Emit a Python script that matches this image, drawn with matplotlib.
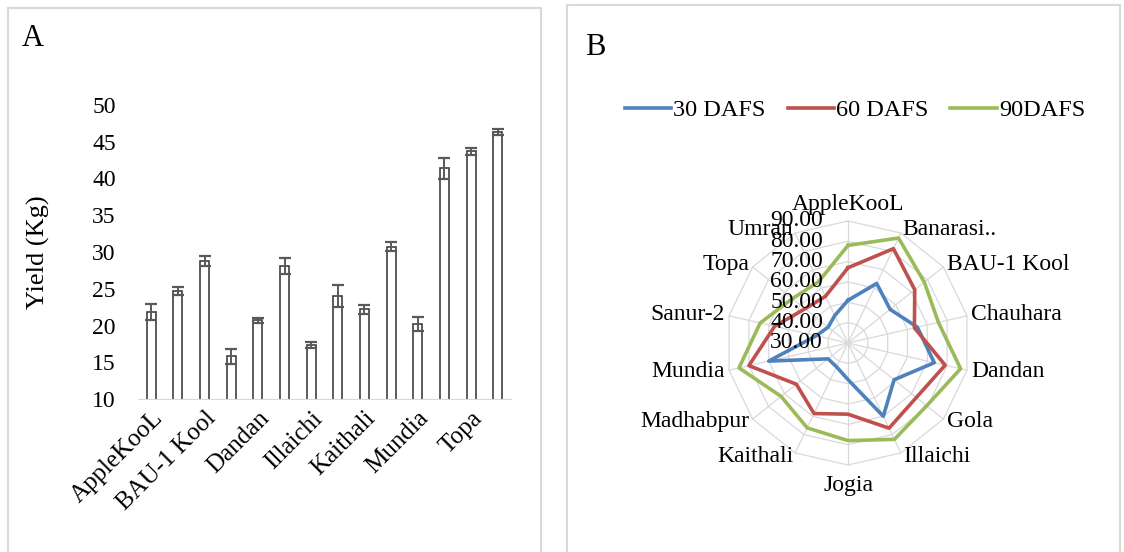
import numpy as np
import matplotlib.pyplot as plt
from matplotlib.patches import Rectangle
from matplotlib.lines import Line2D

# Datos
varieties = ['AppleKooL', 'Banarasi..', 'BAU-1 Kool', 'Chauhara', 'Dandan', 'Gola', 'Illaichi',
             'Jogia', 'Kaithali', 'Madhabpur', 'Mundia', 'Sanur-2', 'Topa', 'Umran']
yield_kg = [21.8, 24.7, 28.8, 15.8, 20.7, 28.1, 17.3, 24.0, 22.2, 30.7, 20.2, 41.4, 43.7, 46.3]
yield_err = [1.1, 0.6, 0.7, 1.0, 0.3, 1.1, 0.4, 1.5, 0.6, 0.6, 0.9, 1.4, 0.5, 0.4]

dafs30 = [51, 62.5, 56.5, 65, 73.5, 59, 70, 48, 43, 42.5, 70, 46, 42.5, 45]
dafs60 = [67, 81.5, 72, 63.5, 79, 73, 76.5, 65, 68.5, 62.5, 80, 67, 57, 55.5]
dafs90 = [78, 87.3, 78, 75.6, 86.8, 79.5, 82.6, 78, 76.3, 72.1, 85, 74.3, 65, 63.4]
series_names = ['30 DAFS', '60 DAFS', '90DAFS']
series_colors = ['#4F81BD', '#C0504D', '#9BBB59']
radial_ticks = [30, 40, 50, 60, 70, 80, 90]

plt.rcParams['font.family'] = ['Liberation Serif', 'DejaVu Serif']

W, H = 1124, 552
fig = plt.figure(figsize=(W / 100, H / 100), dpi=100)


def px_box(x0, y0, x1, y1):
    # caja en pixeles (origen arriba a la izquierda) -> fraccion de figura
    return [x0 / W, 1 - y1 / H, (x1 - x0) / W, (y1 - y0) / H]


# marcos de los paneles
for (x0, y0, x1, y1) in [(8, 8, 541, 560), (567, 5, 1120, 560)]:
    fig.patches.append(Rectangle((x0 / W, 1 - y1 / H), (x1 - x0) / W, (y1 - y0) / H,
                                 transform=fig.transFigure, fill=False,
                                 edgecolor='#d9d9d9', linewidth=1.5))

fig.text(22 / W, 1 - 38 / H, 'A', fontsize=22, va='center', ha='left')
fig.text(585 / W, 1 - 48 / H, 'B', fontsize=22, va='center', ha='left')

# ---- Panel A: barras ----
ax1 = fig.add_axes(px_box(138, 105, 511, 399))
x = np.arange(len(varieties))
ax1.bar(x, yield_kg, width=0.34, color='white', edgecolor='#404040', linewidth=1.2)
ax1.errorbar(x, yield_kg, yerr=yield_err, fmt='none', ecolor='#595959',
             elinewidth=1.4, capsize=4.5, capthick=1.6)
ax1.set_xlim(-0.5, len(varieties) - 0.5)
ax1.set_ylim(10, 50)
ax1.set_yticks(range(10, 51, 5))
ax1.set_xticks(x[::2])
ax1.set_xticklabels(varieties[::2], rotation=45, ha='right', rotation_mode='anchor', fontsize=18)
ax1.tick_params(axis='both', length=0)
ax1.tick_params(axis='y', pad=16, labelsize=17)
ax1.tick_params(axis='x', pad=6)
for s in ['top', 'right', 'left']:
    ax1.spines[s].set_visible(False)
ax1.spines['bottom'].set_color('#d9d9d9')
ax1.set_ylabel('Yield (Kg)', fontsize=19, labelpad=30)

# ---- Panel B: radar ----
cx, cy, rad = 848, 343, 122
ax2 = fig.add_axes(px_box(cx - rad, cy - rad, cx + rad, cy + rad), projection='polar')
ax2.set_theta_zero_location('N')
ax2.set_theta_direction(-1)
ax2.set_ylim(30, 90)
ax2.grid(False)
ax2.spines['polar'].set_visible(False)
ax2.set_xticks([])
ax2.set_yticks([])
ax2.patch.set_alpha(0)

theta = np.linspace(0, 2 * np.pi, len(varieties), endpoint=False)
theta_c = np.append(theta, theta[0])

for v in radial_ticks[1:]:
    ax2.plot(theta_c, [v] * len(theta_c), color='#d9d9d9', linewidth=0.9, clip_on=False, zorder=1)
for t in theta:
    ax2.plot([t, t], [30, 90], color='#d9d9d9', linewidth=0.9, clip_on=False, zorder=1)

for vals, c in zip([dafs30, dafs60, dafs90], series_colors):
    ax2.plot(theta_c, vals + vals[:1], color=c, linewidth=2.6, clip_on=False, zorder=3)

for t, name in zip(theta, varieties):
    s, co = np.sin(t), np.cos(t)
    ha = 'left' if s > 0.1 else ('right' if s < -0.1 else 'center')
    if co > 0.95:
        va, r = 'bottom', 93
    elif co < -0.95:
        va, r = 'top', 95
    else:
        va, r = 'center', 92
    ax2.text(t, r, name, ha=ha, va=va, fontsize=17, zorder=5)

for v in radial_ticks:
    ax2.annotate('%.2f' % v, xy=(0, v), xytext=(-18, 0), textcoords='offset points',
                 ha='right', va='center', fontsize=17, annotation_clip=False, zorder=6)

handles = [Line2D([], [], color=c, linewidth=2.6) for c in series_colors]
fig.legend(handles, series_names, loc='center', bbox_to_anchor=(855 / W, 1 - 110 / H),
           ncol=3, frameon=False, fontsize=17.5, handlelength=1.9, handletextpad=0.1,
           columnspacing=0.9)

fig.savefig('out.png', dpi=100)
